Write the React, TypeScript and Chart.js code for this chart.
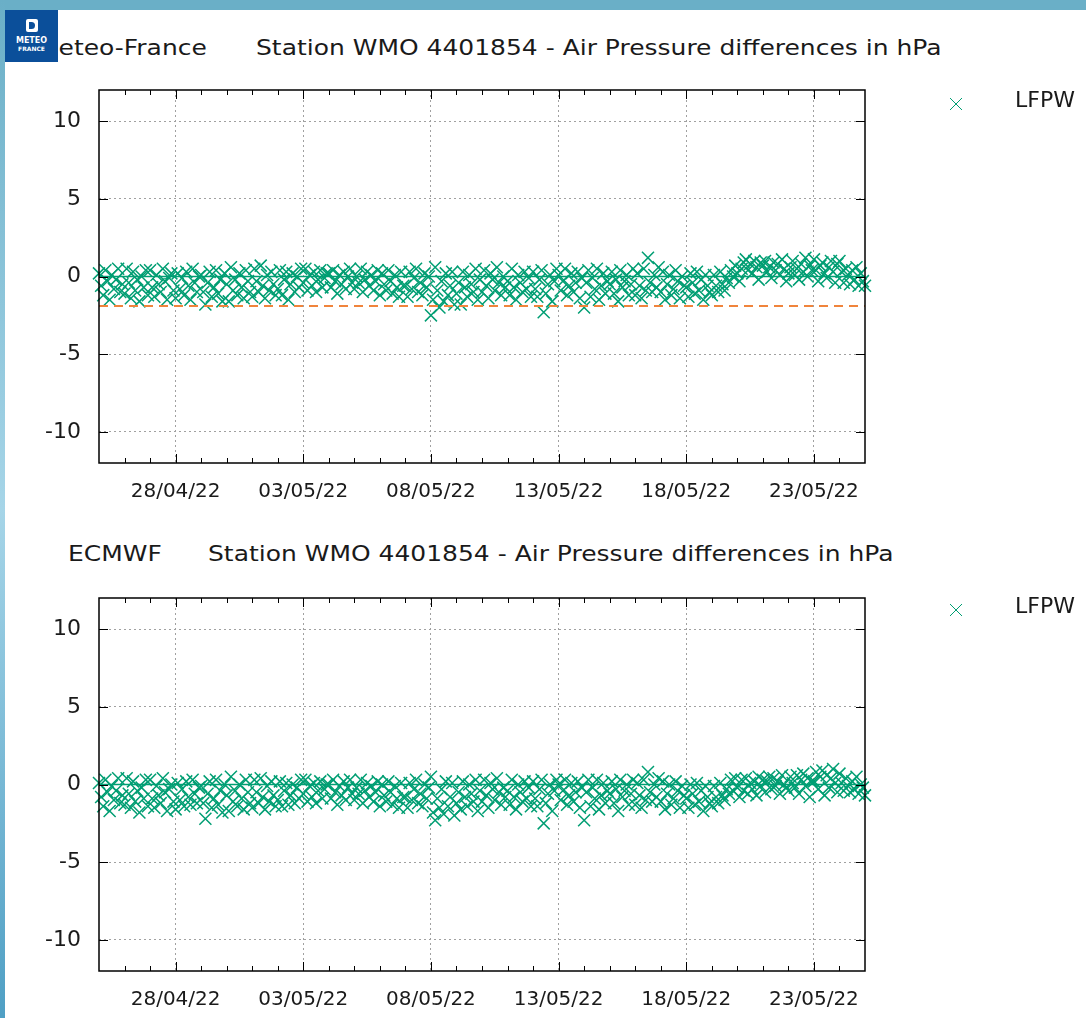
import React, { useEffect, useRef } from "react";
import { Chart, registerables } from "chart.js";

Chart.register(...registerables);

// ---------- data ----------
const STEP_DAYS = 1 / 12; // one sample every 2 hours, starting 25/04/22 00:00
const X_MIN = 0; // days since 25/04/22
const X_MAX = 30; // 25/05/22
const X_TICK_DAYS = [3, 8, 13, 18, 23, 28];
const X_TICK_LABELS = ["28/04/22", "03/05/22", "08/05/22", "13/05/22", "18/05/22", "23/05/22"];
const Y_TICKS = [-10, -5, 0, 5, 10];
const Y_MIN = -12;
const Y_MAX = 12;
const SERIES_LABEL = "LFPW";
const MF_THRESHOLD = -1.9;

const MF_VALUES = [
  0.2, -0.6, -1.2, 0.4, -0.3, -1.5, 0.1, -0.8, -0.2, 0.5, -1.0, -0.5,
  -1.1, 0.5, -0.4, -1.4, 0.3, -0.9, -0.2, -1.6, 0.0, -0.7, 0.4, -1.2,
  0.4, -0.7, -1.3, 0.1, -0.5, -1.0, 0.5, -0.3, -1.5, -0.1, 0.2, -0.9,
  -1.4, 0.2, -0.8, -0.1, -1.2, 0.3, -0.6, -1.5, 0.5, -0.4, -1.0, 0.0,
  0.1, -1.0, -1.8, -0.4, 0.3, -1.3, -0.7, 0.4, -1.1, -0.2, -1.6, 0.2,
  -0.5, -1.6, 0.6, -0.9, -0.2, -1.2, 0.2, -0.7, -1.4, 0.4, -0.3, -1.0,
  -1.3, 0.5, -0.3, -1.0, 0.7, -0.6, -1.4, 0.1, -0.9, 0.3, -0.5, -1.2,
  -0.8, 0.4, -1.2, -0.2, 0.3, -1.5, -0.5, 0.2, -1.0, 0.0, -0.7, 0.5,
  -0.4, 0.5, -0.9, 0.1, -0.6, 0.3, -1.0, -0.2, 0.4, -0.7, -0.1, 0.2,
  0.2, -0.7, 0.4, -0.3, -1.1, 0.1, -0.5, 0.3, -0.8, 0.0, 0.5, -0.4,
  -0.8, 0.0, -0.4, 0.5, -1.0, -0.2, 0.3, -0.6, 0.1, -0.9, -0.3, 0.4,
  -1.2, 0.2, -0.5, -0.9, 0.4, -0.3, -1.1, 0.1, -0.7, -1.3, 0.3, -0.6,
  -0.6, -1.3, 0.3, -0.8, -0.1, 0.5, -1.0, -0.4, -1.2, 0.2, -0.7, 0.0,
  -2.5, -1.5, 0.6, -0.9, -2.0, -0.3, -1.6, 0.2, -1.2, -0.6, 0.3, -1.8,
  -1.1, -0.4, -1.8, 0.3, -0.7, -1.3, 0.1, -0.5, -1.0, 0.5, -1.5, -0.2,
  -1.0, 0.4, -0.6, -1.4, 0.2, -0.2, -0.9, 0.6, -0.4, -1.2, 0.0, -0.7,
  -0.3, -1.2, 0.5, -0.7, -1.5, 0.1, -0.4, -1.0, 0.3, -0.8, -0.1, -1.3,
  0.3, -0.8, -1.3, -0.2, 0.4, -2.3, -1.1, -0.5, 0.1, -1.6, -0.3, 0.5,
  0.1, -0.9, -0.3, 0.5, -1.2, -0.6, 0.2, -1.0, -0.4, 0.3, -1.4, -0.1,
  -2.0, -0.4, 0.4, -1.3, -0.1, -0.8, 0.5, -1.5, -0.6, 0.2, -1.1, -0.3,
  -0.5, 0.3, -1.1, -0.2, -1.6, 0.4, -0.7, -0.3, 0.1, -1.2, -0.5, 0.5,
  -1.2, 0.2, -0.6, -1.4, 0.5, -0.9, 1.2, -0.4, -1.0, 0.1, -0.7, 0.6,
  -1.0, 0.3, -1.5, -0.5, 0.1, -1.2, -0.8, 0.4, -0.3, -1.4, 0.0, -0.6,
  -0.7, -1.3, 0.2, -0.4, -1.1, 0.3, -0.9, -0.2, -1.5, 0.1, -0.6, -1.0,
  -1.2, 0.1, -0.6, -1.0, 0.3, -0.5, -0.9, -0.1, -0.4, 0.4, 0.0, 0.7,
  0.2, -0.3, 0.5, 0.9, 1.1, 0.4, 0.8, 0.2, 1.0, 0.6, -0.2, 0.9,
  0.7, 1.0, 0.3, 0.6, -0.1, 0.9, 0.4, 0.8, 0.1, 1.1, 0.5, -0.3,
  0.2, 0.6, 1.0, 0.1, 0.5, -0.2, 0.8, 0.3, 1.2, 0.0, 0.7, 0.4,
  1.1, 0.4, -0.3, 0.7, 0.9, 0.2, -0.1, 0.6, 1.0, 0.3, -0.4, 0.8,
  1.0, 0.3, -0.4, 0.5, 0.1, -0.5, 0.4, -0.2, 0.6, -0.6, 0.2, -0.3,
  -0.6,
];

const ECMWF_VALUES = [
  0.1, -0.8, -1.4, 0.3, -0.5, -1.7, -0.1, -1.0, -0.4, 0.4, -1.2, -0.7,
  -1.3, 0.4, -0.6, -1.5, 0.2, -1.1, -0.4, -1.8, -0.2, -0.9, 0.3, -1.4,
  0.3, -0.9, -1.5, -0.1, -0.7, -1.2, 0.4, -0.5, -1.7, -0.3, 0.0, -1.1,
  -1.6, 0.1, -1.0, -0.3, -1.4, 0.2, -0.8, -1.3, 0.3, -0.6, -1.2, -0.2,
  -0.1, -1.2, -2.2, -0.6, 0.2, -1.5, -0.9, 0.3, -1.3, -0.4, -1.8, 0.0,
  -0.7, -1.7, 0.5, -1.1, -0.4, -1.4, 0.0, -0.9, -1.6, 0.3, -0.5, -1.2,
  -1.5, 0.3, -0.5, -1.2, 0.4, -0.8, -1.6, -0.1, -1.1, 0.2, -0.7, -1.4,
  -1.0, 0.2, -1.4, -0.4, 0.1, -1.3, -0.7, 0.0, -1.2, -0.2, -0.9, 0.3,
  -0.6, 0.3, -1.1, -0.1, -0.8, 0.1, -1.2, -0.4, 0.2, -0.9, -0.3, 0.0,
  0.0, -0.9, 0.3, -0.5, -1.3, -0.1, -0.7, 0.2, -1.0, -0.2, 0.3, -0.6,
  -1.0, -0.2, -0.6, 0.3, -1.2, -0.4, 0.1, -0.8, -0.1, -1.1, -0.5, 0.2,
  -1.4, 0.0, -0.7, -1.1, 0.2, -0.5, -1.3, -0.1, -0.9, -1.5, 0.1, -0.8,
  -0.8, -1.5, 0.1, -1.0, -0.3, 0.3, -1.2, -0.6, -1.4, 0.0, -0.9, -0.2,
  0.5, -1.8, -2.3, -0.9, -1.5, -0.3, -1.9, 0.2, -1.4, -0.8, 0.1, -2.0,
  -1.2, -0.5, -1.6, 0.2, -0.8, -1.4, 0.0, -0.6, -1.1, 0.3, -1.7, -0.4,
  -1.1, 0.3, -0.7, -1.5, 0.1, -0.3, -1.0, 0.4, -0.5, -1.3, -0.2, -0.8,
  -0.4, -1.3, 0.3, -0.8, -1.6, 0.0, -0.5, -1.1, 0.2, -0.9, -0.2, -1.4,
  0.2, -0.9, -1.4, -0.3, 0.3, -2.5, -1.2, -0.6, 0.0, -1.7, -0.4, 0.3,
  0.0, -1.0, -0.4, 0.3, -1.3, -0.7, 0.1, -1.1, -0.5, 0.2, -1.5, -0.2,
  -2.3, -0.5, 0.3, -1.4, -0.2, -0.9, 0.3, -1.6, -0.7, 0.1, -1.2, -0.4,
  -0.6, 0.2, -1.2, -0.3, -1.7, 0.3, -0.8, -0.4, 0.0, -1.3, -0.6, 0.3,
  -1.3, 0.1, -0.7, -1.5, 0.3, -1.0, 0.8, -0.5, -1.1, 0.0, -0.8, 0.4,
  -1.1, 0.2, -1.6, -0.6, 0.0, -1.3, -0.9, 0.2, -0.4, -1.5, -0.1, -0.7,
  -0.9, -1.5, 0.0, -0.6, -1.3, 0.1, -1.1, -0.4, -1.7, -0.1, -0.8, -1.2,
  -1.4, -0.1, -0.8, -1.2, 0.1, -0.7, -1.0, -0.3, -0.6, 0.3, -0.4, 0.4,
  -0.2, -0.8, 0.3, -0.4, 0.4, -0.6, 0.1, -0.3, 0.2, -0.7, 0.5, -0.1,
  0.3, -0.5, 0.2, 0.5, -0.3, 0.4, -0.1, 0.2, -0.6, 0.6, 0.0, -0.2,
  -0.4, 0.5, 0.1, -0.2, 0.6, -0.6, 0.3, 0.7, -0.1, 0.4, -0.8, 0.2,
  0.2, 0.8, -0.3, 0.5, 0.9, -0.7, 0.6, -0.2, 0.4, 1.0, 0.1, -0.5,
  0.7, 0.1, -0.4, 0.4, -0.1, -0.5, 0.2, -0.3, 0.5, -0.6, 0.0, -0.2,
  -0.7,
];

// ---------- styles ----------
const FONT = "'DejaVu Sans', 'Liberation Sans', sans-serif";
const GREEN = "#009e73";
const ORANGE = "#f0843c";
const TEXT = "#1a1a1a";

const framePlugin = {
  id: "gnuplotFrame",
  afterDraw(chart: any) {
    const { ctx, chartArea, scales } = chart;
    const { left, right, top, bottom } = chartArea;
    const x = scales.x;
    const y = scales.y;
    ctx.save();
    ctx.strokeStyle = "#000";
    ctx.lineWidth = 1;
    ctx.beginPath();
    for (let d = X_MIN + 1; d < X_MAX; d++) {
      const px = Math.round(x.getPixelForValue(d)) + 0.5;
      const len = X_TICK_DAYS.includes(d) ? 9 : 5;
      ctx.moveTo(px, bottom);
      ctx.lineTo(px, bottom - len);
      ctx.moveTo(px, top);
      ctx.lineTo(px, top + len);
    }
    for (const v of Y_TICKS) {
      const py = Math.round(y.getPixelForValue(v)) + 0.5;
      ctx.moveTo(left, py);
      ctx.lineTo(left + 9, py);
      ctx.moveTo(right, py);
      ctx.lineTo(right - 9, py);
    }
    ctx.stroke();
    ctx.lineWidth = 1.5;
    ctx.strokeRect(left, top, right - left, bottom - top);
    ctx.restore();
  },
};

function makeConfig(values: number[], threshold: number | null): any {
  const points = values.map((v, i) => ({ x: X_MIN + i * STEP_DAYS, y: v }));
  const datasets: any[] = [];
  if (threshold !== null) {
    datasets.push({
      type: "line",
      data: [
        { x: X_MIN, y: threshold },
        { x: X_MAX, y: threshold },
      ],
      borderColor: ORANGE,
      borderWidth: 2,
      borderDash: [9, 6],
      pointRadius: 0,
      fill: false,
    });
  }
  datasets.push({
    type: "line",
    data: [
      { x: X_MIN, y: 0 },
      { x: X_MAX, y: 0 },
    ],
    borderColor: GREEN,
    borderWidth: 1.5,
    pointRadius: 0,
    fill: false,
  });
  datasets.push({
    type: "scatter",
    label: SERIES_LABEL,
    data: points,
    pointStyle: "crossRot",
    pointRadius: 8.5,
    pointBorderWidth: 1.5,
    borderColor: GREEN,
    backgroundColor: GREEN,
    showLine: false,
    clip: false,
  });

  return {
    type: "scatter",
    data: { datasets },
    options: {
      animation: false,
      responsive: false,
      maintainAspectRatio: false,
      events: [],
      layout: { padding: { left: 0, right: 221, top: 20, bottom: 0 } },
      plugins: { legend: { display: false }, tooltip: { enabled: false }, title: { display: false } },
      scales: {
        x: {
          type: "linear",
          min: X_MIN,
          max: X_MAX,
          afterBuildTicks: (s: any) => {
            s.ticks = X_TICK_DAYS.map((v) => ({ value: v }));
          },
          afterFit: (s: any) => {
            s.height = 50;
            s.paddingLeft = 0;
            s.paddingRight = 0;
          },
          ticks: {
            autoSkip: false,
            maxRotation: 0,
            padding: 17,
            color: TEXT,
            font: { family: FONT, size: 20 },
            callback: (v: number) => X_TICK_LABELS[X_TICK_DAYS.indexOf(v)] ?? "",
          },
          grid: { color: "#a0a0a0", lineWidth: 1, drawTicks: false },
          border: { display: false, dash: [2, 3] },
        },
        y: {
          type: "linear",
          min: Y_MIN,
          max: Y_MAX,
          afterBuildTicks: (s: any) => {
            s.ticks = Y_TICKS.map((v) => ({ value: v }));
          },
          afterFit: (s: any) => {
            s.width = 99;
            s.paddingTop = 0;
            s.paddingBottom = 0;
          },
          ticks: {
            padding: 18,
            color: TEXT,
            font: { family: FONT, size: 22 },
            callback: (v: number) => String(v),
          },
          grid: { color: "#a0a0a0", lineWidth: 1, drawTicks: false },
          border: { display: false, dash: [2, 3] },
        },
      },
    },
    plugins: [framePlugin],
  };
}

function PressureChart({ values, threshold, top }: { values: number[]; threshold: number | null; top: number }) {
  const ref = useRef<HTMLCanvasElement | null>(null);
  useEffect(() => {
    if (!ref.current) return;
    const chart = new Chart(ref.current, makeConfig(values, threshold));
    return () => chart.destroy();
  }, [values, threshold]);
  return (
    <canvas
      ref={ref}
      width={1086}
      height={443}
      style={{ position: "absolute", left: 0, top, width: 1086, height: 443 }}
    />
  );
}

const textStyle: React.CSSProperties = {
  position: "absolute",
  fontFamily: FONT,
  fontSize: 22,
  lineHeight: "22px",
  color: TEXT,
  whiteSpace: "nowrap",
};

const titleStyle: React.CSSProperties = {
  ...textStyle,
  transform: "scaleX(1.135)",
  transformOrigin: "left center",
};

function LegendEntry({ top }: { top: number }) {
  return (
    <>
      <svg width={14} height={14} style={{ position: "absolute", left: 949, top: top + 8 }}>
        <line x1={1} y1={1} x2={13} y2={13} stroke={GREEN} strokeWidth={1} />
        <line x1={13} y1={1} x2={1} y2={13} stroke={GREEN} strokeWidth={1} />
      </svg>
      <span style={{ ...textStyle, left: 1015, top }}>{SERIES_LABEL}</span>
    </>
  );
}

export default function App() {
  return (
    <div
      style={{
        position: "absolute",
        left: 0,
        top: 0,
        width: 1086,
        height: 1018,
        overflow: "hidden",
        background: "#ffffff",
      }}
    >
      <PressureChart values={MF_VALUES} threshold={MF_THRESHOLD} top={70} />
      <PressureChart values={ECMWF_VALUES} threshold={null} top={578} />

      <span style={{ ...titleStyle, left: 37, top: 37 }}>Meteo-France</span>
      <span style={{ ...titleStyle, left: 256, top: 37 }}>
        Station WMO 4401854 - Air Pressure differences in hPa
      </span>
      <span style={{ ...titleStyle, left: 68, top: 543 }}>ECMWF</span>
      <span style={{ ...titleStyle, left: 208, top: 543 }}>
        Station WMO 4401854 - Air Pressure differences in hPa
      </span>

      <LegendEntry top={89} />
      <LegendEntry top={595} />

      {/* decorative frame */}
      <div style={{ position: "absolute", left: 0, top: 0, width: 1086, height: 10, background: "#6aafc7" }} />
      <div
        style={{
          position: "absolute",
          left: 0,
          top: 0,
          width: 5,
          height: 1018,
          background: "linear-gradient(to bottom, #6aafc7, #a6d5e8 50%, #4f9fc4)",
        }}
      />
      {/* logo */}
      <div
        style={{
          position: "absolute",
          left: 5,
          top: 10,
          width: 53,
          height: 52,
          background: "#0b4f9a",
          color: "#fff",
          fontFamily: FONT,
          fontWeight: "bold",
          textAlign: "center",
        }}
      >
        <div
          style={{
            position: "absolute",
            left: 21,
            top: 9,
            width: 12,
            height: 13,
            background: "#fff",
            borderRadius: 2,
          }}
        >
          <div
            style={{
              position: "absolute",
              left: 3,
              top: 3,
              width: 6,
              height: 7,
              background: "#0b4f9a",
              borderRadius: "0 4px 4px 0",
            }}
          />
        </div>
        <div style={{ position: "absolute", left: 0, top: 26, width: 53, fontSize: 8, lineHeight: "9px" }}>METEO</div>
        <div style={{ position: "absolute", left: 0, top: 35, width: 53, fontSize: 6, lineHeight: "7px" }}>FRANCE</div>
      </div>
    </div>
  );
}
